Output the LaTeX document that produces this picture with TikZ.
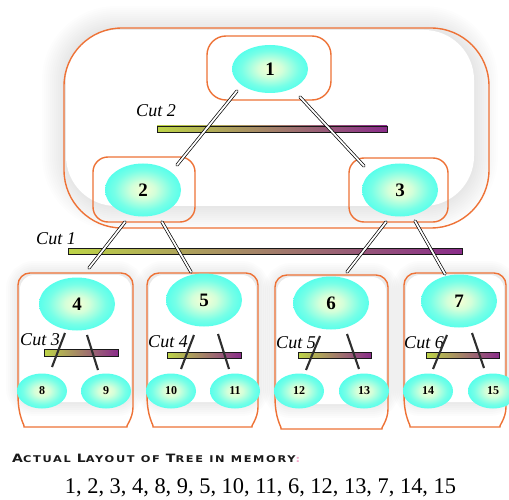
\documentclass[tikz,border=0pt]{standalone}
\usepackage{fontspec}
\setmainfont{Liberation Serif}
\newfontfamily\headfont[LetterSpace=15]{DejaVu Sans}
\usetikzlibrary{shapes.geometric}

\definecolor{boxorange}{HTML}{EE7236}
\definecolor{eggcyan}{HTML}{3FFFEF}
\definecolor{eggcore}{HTML}{F8FFD4}
\definecolor{barleft}{HTML}{BDD447}
\definecolor{barmid}{HTML}{5A8B9E}
\definecolor{barright}{HTML}{8A2C8A}
\definecolor{linkgray}{HTML}{2E2E2E}
\definecolor{colonpink}{HTML}{F4A6C8}

\pgfdeclareradialshading{egg}{\pgfpoint{0bp}{0bp}}{color(0bp)=(eggcore); color(8bp)=(eggcore!80!eggcyan); color(19bp)=(eggcore!30!eggcyan); color(30bp)=(eggcyan); color(50bp)=(eggcyan)}

% small-caps style heading letters
\newcommand\hcap[1]{{\fontsize{11.5}{12}\selectfont #1}}
\newcommand\hsm[1]{{\fontsize{9.3}{10}\selectfont #1}}

% soft grey halo round a white rounded panel
\newcommand\halo[5]{% corner radius, corner, opposite corner, widest stroke, opacity
  \foreach \w in {4,8,...,#4} {
    \draw[black, draw opacity=#5, line width=\w pt, rounded corners=#1] #2 rectangle #3;}
  \fill[white, rounded corners=#1] #2 rectangle #3;}

% box with rounded top corners and a curved, narrowing bottom
\newcommand\barrelbox[4]{%
  \draw[orangeline, rounded corners=12pt]
    (#1,{#4-32}) -- (#1,#3) -- (#2,#3) -- (#2,{#4-32})
    .. controls (#2,{#4-8}) and ({#2-8},#4) .. ({#2-18},#4)
    -- ({#1+18},#4)
    .. controls ({#1+8},#4) and (#1,{#4-8}) .. (#1,{#4-32});}

\begin{document}
\begin{tikzpicture}[x=1pt,y=-1pt,
  orangeline/.style={draw=boxorange, line width=1.4pt},
  bigegg/.style={ellipse, shading=egg, minimum width=76pt, minimum height=53pt,
      inner sep=0pt, font=\bfseries\fontsize{19}{19}\selectfont},
  smallegg/.style={ellipse, shading=egg, minimum width=50pt, minimum height=35pt,
      inner sep=0pt, font=\bfseries\fontsize{12}{12}\selectfont},
  cutbar/.style={draw=black!90, line width=0.9pt, inner sep=0pt,
      left color=barleft, middle color=barmid, right color=barright},
  cutlabel/.style={font=\itshape\fontsize{18}{18}\selectfont, inner sep=0pt},
  twin/.style={draw=black, line width=0.7pt, double=white,
      double distance=1.8pt, line cap=round},
  thin link/.style={draw=linkgray, line width=2.1pt}]

\useasboundingbox (0,0) rectangle (509,500);
\fill[white] (0,0) rectangle (509,500);

% soft halos behind the groups
\halo{50pt}{(66,30)}{(474,206)}{48}{0.009}
\halo{14pt}{(20,275)}{(131,402)}{28}{0.012}
\halo{14pt}{(149,275)}{(256,402)}{28}{0.012}
\halo{14pt}{(277,277)}{(386,404)}{28}{0.012}
\halo{14pt}{(406,275)}{(504,402)}{28}{0.012}

% group outlines
\draw[orangeline, rounded corners=58pt] (64,28) rectangle (489,228);
\draw[orangeline, rounded corners=19pt] (207,36) rectangle (331,100);
\draw[orangeline, rounded corners=15pt] (93,157) rectangle (195,222);
\draw[orangeline, rounded corners=15pt] (349,158) rectangle (448,222);
\barrelbox{18}{133}{273}{427}
\barrelbox{147}{258}{273}{427}
\barrelbox{275}{388}{275}{429}
\barrelbox{404}{506}{273}{427}

% tree nodes
\node[bigegg, minimum height=48pt] (n1) at (270,69) {1};
\node[bigegg] (n2) at (143,190) {2};
\node[bigegg] (n3) at (400,190) {3};
\node[bigegg] (n4) at (77,304) {4};
\node[bigegg] (n5) at (204,300) {5};
\node[bigegg] (n6) at (331,303) {6};
\node[bigegg] (n7) at (459,301) {7};
\node[smallegg] (n8) at (42,391) {8};
\node[smallegg] (n9) at (106,391) {9};
\node[smallegg] (n10) at (171,391) {10};
\node[smallegg] (n11) at (235,391) {11};
\node[smallegg] (n12) at (299,391) {12};
\node[smallegg] (n13) at (364,391) {13};
\node[smallegg] (n14) at (428,391) {14};
\node[smallegg] (n15) at (493,391) {15};

% cut bars
\node[cutbar, minimum width=230pt, minimum height=6pt] (cut2) at (272,129) {};
\node[cutbar, minimum width=394pt, minimum height=6pt] (cut1) at (265,251) {};
\node[cutbar, minimum width=74pt, minimum height=7pt] (cut3) at (81,353) {};
\node[cutbar, minimum width=74pt, minimum height=6pt] (cut4) at (204,355) {};
\node[cutbar, minimum width=73pt, minimum height=6pt] (cut5) at (334.5,355) {};
\node[cutbar, minimum width=73pt, minimum height=6pt] (cut6) at (462.5,355.5) {};

\node[cutlabel] (lc2) at (156,111) {Cut 2};
\node[cutlabel] (lc1) at (56,239) {Cut 1};
\node[cutlabel] (lc3) at (40,340) {Cut 3};
\node[cutlabel] (lc4) at (168,342) {Cut 4};
\node[cutlabel] (lc5) at (296,343) {Cut 5};
\node[cutlabel] (lc6) at (424,343) {Cut 6};

% link end points
\coordinate (a12) at (237,91);  \coordinate (b12) at (177,165);
\coordinate (a13) at (300,97);  \coordinate (b13) at (364,166);
\coordinate (a24) at (125,222); \coordinate (b24) at (89,268);
\coordinate (a25) at (162,222); \coordinate (b25) at (191,272);
\coordinate (a36) at (386,222); \coordinate (b36) at (347,272);
\coordinate (a37) at (415,221); \coordinate (b37) at (445,274);
\coordinate (a48) at (65,333);  \coordinate (b48) at (52,367);
\coordinate (a49) at (87,335);  \coordinate (b49) at (98,370);
\coordinate (a510) at (194,335); \coordinate (b510) at (181,369);
\coordinate (a511) at (218,334); \coordinate (b511) at (229,369);
\coordinate (a612) at (320,336); \coordinate (b612) at (306,370);
\coordinate (a613) at (347,334); \coordinate (b613) at (359,369);
\coordinate (a714) at (447,335); \coordinate (b714) at (433,369);
\coordinate (a715) at (472,333); \coordinate (b715) at (484,368);

% links between levels
\draw[twin] (a12) -- (b12);
\draw[twin] (a13) -- (b13);
\draw[twin] (a24) -- (b24);
\draw[twin] (a25) -- (b25);
\draw[twin] (a36) -- (b36);
\draw[twin] (a37) -- (b37);
\draw[thin link] (a48) -- (b48);
\draw[thin link] (a49) -- (b49);
\draw[thin link] (a510) -- (b510);
\draw[thin link] (a511) -- (b511);
\draw[thin link] (a612) -- (b612);
\draw[thin link] (a613) -- (b613);
\draw[thin link] (a714) -- (b714);
\draw[thin link] (a715) -- (b715);

% memory layout caption
\node[anchor=base west, inner sep=0pt, text=black!90] (head) at (12,462)
  {\scalebox{1.22}[1]{\headfont\bfseries\hcap{A}\hsm{CTUAL} \hcap{L}\hsm{AYOUT} \hsm{OF} \hcap{T}\hsm{REE} \hsm{IN} \hsm{MEMORY}\textcolor{colonpink}{\hsm{:}}}};
\node[anchor=base, inner sep=0pt, font=\fontsize{22.4}{23}\selectfont] (order) at (260.5,493)
  {1, 2, 3, 4, 8, 9, 5, 10, 11, 6, 12, 13, 7, 14, 15};
\end{tikzpicture}
\end{document}
